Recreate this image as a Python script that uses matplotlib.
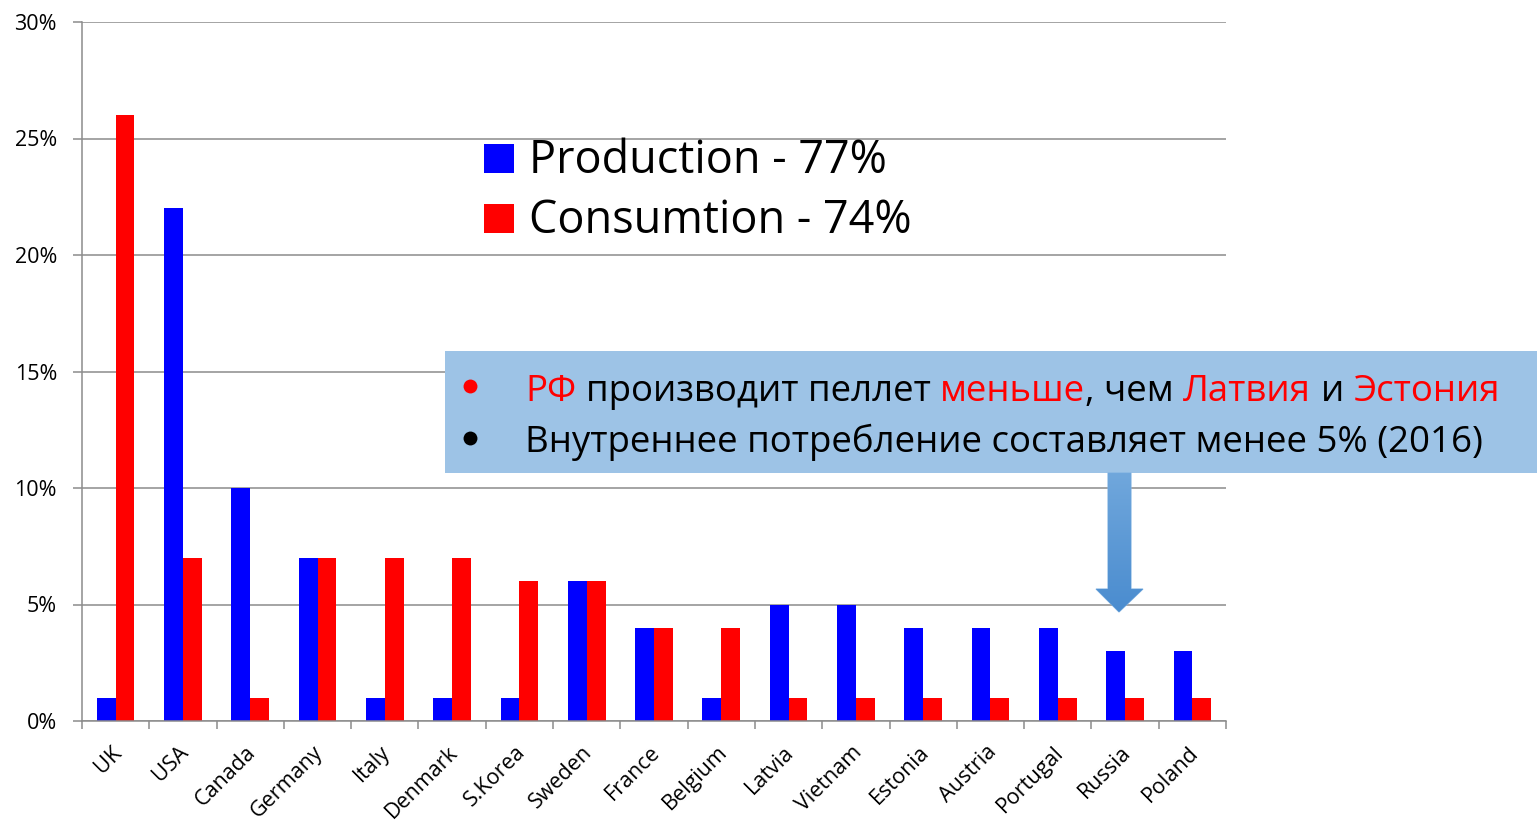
import numpy as np
import matplotlib
matplotlib.use('Agg')
import matplotlib.pyplot as plt
from matplotlib.patches import Rectangle, Polygon
from matplotlib.colors import LinearSegmentedColormap
from matplotlib.transforms import ScaledTranslation

# Pellet production / consumption share by country
countries = ['UK', 'USA', 'Canada', 'Germany', 'Italy', 'Denmark', 'S.Korea', 'Sweden',
             'France', 'Belgium', 'Latvia', 'Vietnam', 'Estonia', 'Austria', 'Portugal',
             'Russia', 'Poland']
production = [1, 22, 10, 7, 1, 1, 1, 6, 4, 1, 5, 5, 4, 4, 4, 3, 3]
consumption = [26, 7, 1, 7, 7, 7, 6, 6, 4, 4, 1, 1, 1, 1, 1, 1, 1]
legend_labels = ['Production - 77%', 'Consumtion - 74%']
yticks = [0, 5, 10, 15, 20, 25, 30]

note_line1 = [('РФ', 'red'), (' производит пеллет ', 'black'), ('меньше', 'red'),
              (', чем ', 'black'), ('Латвия', 'red'), (' и ', 'black'), ('Эстония', 'red')]
note_line2 = [('Внутреннее потребление составляет менее 5% (2016)', 'black')]

BLUE = '#0000FF'
RED = '#FF0000'
GRID = '#8c8c8c'
FONT = ['Open Sans', 'DejaVu Sans']

W, H = 1537, 823
fig = plt.figure(figsize=(W / 100, H / 100), dpi=100)
ax = fig.add_axes([82 / W, 1 - 721 / H, (1226 - 82) / W, (721 - 22) / H])

x = np.arange(len(countries))
w = 0.28
ax.bar(x - w / 2, production, w, color=BLUE, linewidth=0)
ax.bar(x + w / 2, consumption, w, color=RED, linewidth=0)

ax.set_xlim(-0.5, len(countries) - 0.5)
ax.set_ylim(0, 30)
ax.set_yticks(yticks)
ax.set_yticklabels([f'{v}%' for v in yticks], fontsize=15.5, family=FONT)
ax.yaxis.grid(True, color=GRID, lw=1.1)
ax.set_axisbelow(True)
for s in ['top', 'right']:
    ax.spines[s].set_visible(False)
for s in ['left', 'bottom']:
    ax.spines[s].set_color(GRID)
    ax.spines[s].set_linewidth(1.1)
ax.tick_params(axis='y', length=6.5, color=GRID, width=1.1, pad=11.5)

# ticks between categories, labels at the centres
ax.set_xticks(np.arange(len(countries) + 1) - 0.5)
ax.set_xticklabels([])
ax.tick_params(axis='x', which='major', length=5.8, color=GRID, width=1.1)
ax.set_xticks(x, minor=True)
ax.set_xticklabels(countries, minor=True, rotation=45, ha='right', va='top',
                   fontsize=15.5, family=FONT)
ax.tick_params(axis='x', which='minor', length=0, pad=15)
shift = ScaledTranslation(0.10, 0, fig.dpi_scale_trans)
for lbl in ax.get_xticklabels(minor=True):
    lbl.set_transform(lbl.get_transform() + shift)

# overlay in pixel coordinates for the annotations
ov = fig.add_axes([0, 0, 1, 1])
ov.axis('off')

fig.canvas.draw()
renderer = fig.canvas.get_renderer()


def width(s, size):
    t = ov.text(0, 0, s, fontsize=size, family=FONT)
    wd = t.get_window_extent(renderer).width
    t.remove()
    return wd


def adv(s, size):
    return width('|' + s + '|', size) - width('||', size)


def fit(s, target):
    return 20 * target / adv(s, 20)


def draw_parts(parts, x0, y, size):
    prefix = ''
    for s, c in parts:
        lead = len(s) - len(s.lstrip())
        pos = x0 + adv(prefix + s[:lead], size)
        ov.text(pos, y, s.strip(), color=c, fontsize=size, family=FONT,
                va='baseline', ha='left')
        prefix += s


# legend
leg_size = 0.97 * fit(legend_labels[0], 368)
for i, (lab, col) in enumerate(zip(legend_labels, [BLUE, RED])):
    top = 144 + i * 60
    ov.add_patch(Rectangle((484, top), 30, 29, color=col, lw=0))
    ov.text(529, top + 29, lab, fontsize=leg_size, family=FONT, va='baseline', ha='left')

# note box
ov.add_patch(Rectangle((445, 351), W - 445, 473 - 351, color='#9DC3E6', lw=0))
note_size = fit(''.join(s for s, _ in note_line1), 975)
ov.plot([470], [386], 'o', color='red', ms=10, mew=0)
ov.plot([470], [438], 'o', color='black', ms=10, mew=0)
draw_parts(note_line1, 525, 401, note_size)
draw_parts(note_line2, 525, 452, note_size)

# arrow pointing at Russia
arrow = Polygon([(1108, 473), (1131, 473), (1131, 589), (1143, 589), (1119, 612),
                 (1096, 589), (1108, 589)], closed=True, facecolor='none',
                edgecolor='#80b2e2', lw=0.8)
ov.add_patch(arrow)
cmap = LinearSegmentedColormap.from_list('arr', ['#70a7dc', '#4a8ccf'])
grad = np.linspace(0, 1, 100).reshape(-1, 1)
im = ov.imshow(grad, cmap=cmap, extent=(1096, 1143, 612, 473), aspect='auto', zorder=1)
im.set_clip_path(arrow)

ov.set_xlim(0, W)
ov.set_ylim(H, 0)

fig.savefig('out.png', dpi=100)
